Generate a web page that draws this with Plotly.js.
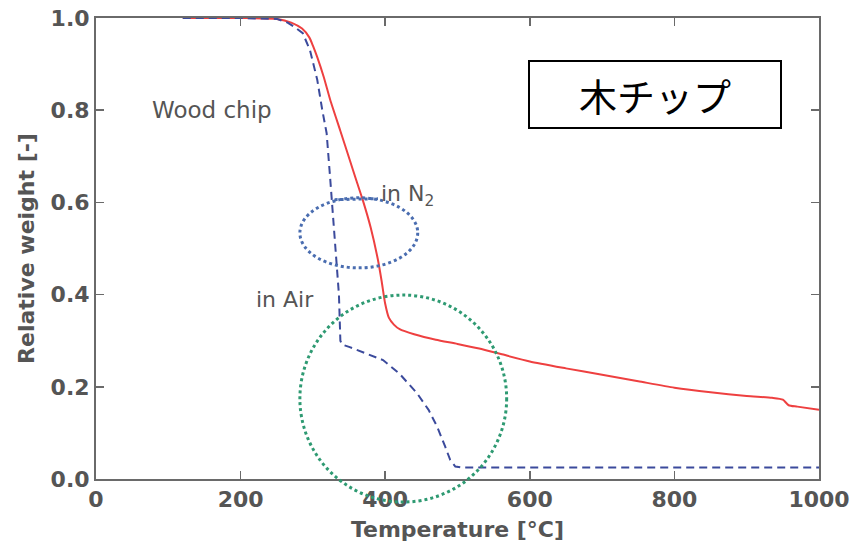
<!DOCTYPE html>
<html><head><meta charset="utf-8">
<script src="https://cdn.plot.ly/plotly-3.0.1.min.js"></script>
<style>html,body{margin:0;padding:0;background:#fff}#chart{width:851px;height:551px}</style>
</head><body><div id="chart"></div>
<script>
// Temperature [°C] and relative weight [-]
const n2Temp = [120,200,250,270,285,295,300,306,315,324,338,351,360,369,380,390,395,400,405,412,420,440,470,500,530,560,600,650,700,750,800,850,900,935,950,958,970,1000];
const n2Weight = [1,1,0.998,0.99,0.977,0.958,0.94,0.915,0.872,0.822,0.755,0.692,0.648,0.605,0.545,0.475,0.43,0.38,0.35,0.335,0.325,0.314,0.302,0.293,0.283,0.271,0.255,0.24,0.226,0.212,0.198,0.188,0.18,0.176,0.172,0.16,0.157,0.15];
const airTemp = [120,200,250,265,275,286,296,306,313,319,324,329,333,336,338,340,351,370,397,420,444,460,472,483,490,497,505,600,800,1000];
const airWeight = [1,1,0.998,0.99,0.98,0.967,0.93,0.866,0.80,0.75,0.65,0.55,0.475,0.40,0.30,0.292,0.286,0.275,0.258,0.228,0.186,0.15,0.113,0.07,0.041,0.027,0.025,0.025,0.025,0.025];
const xTicks = [0,200,400,600,800,1000];
const yTicks = [0,0.2,0.4,0.6,0.8,1.0];
const yTickText = ["0.0","0.2","0.4","0.6","0.8","1.0"];
// highlight ellipses (data units)
const n2Ellipse = {x0:282, x1:445, y0:0.458, y1:0.61};
const airCircle = {x0:282, x1:568, y0:-0.05, y1:0.399};

const xRange = [0,1000], yRange = [0,1];
const px = v => (v - xRange[0])/(xRange[1]-xRange[0]);
const py = v => (v - yRange[0])/(yRange[1]-yRange[0]);

const grey = '#555';
const tickFont = {family:'DejaVu Sans', size:22, color:grey, weight:'bold'};

const traces = [
  {x:n2Temp, y:n2Weight, mode:'lines', name:'in N2', line:{color:'#ee4040', width:2, shape:'spline', smoothing:0.6}},
  {x:airTemp, y:airWeight, mode:'lines', name:'in Air', line:{color:'#3b4a9c', width:2, dash:'8px,5px'}}
];

const axisCommon = {showgrid:false, zeroline:false, showline:true, linecolor:'#6a6a6a', linewidth:2,
  ticks:'inside', ticklen:8, tickwidth:1.5, tickcolor:'#6a6a6a', mirror:'ticks', tickfont:tickFont};

const layout = {
  width:851, height:551,
  margin:{l:96, r:32, t:18, b:72},
  paper_bgcolor:'#fff', plot_bgcolor:'#fff',
  showlegend:false,
  xaxis: Object.assign({}, axisCommon, {range:xRange, tickvals:xTicks, ticktext:xTicks.map(String),
    title:{text:'Temperature [°C]', font:tickFont, standoff:10}}),
  yaxis: Object.assign({}, axisCommon, {range:yRange, tickvals:yTicks, ticktext:yTickText,
    title:{text:'Relative weight [-]', font:tickFont, standoff:10}}),
  shapes:[
    {type:'circle', xref:'paper', yref:'paper', x0:px(n2Ellipse.x0), x1:px(n2Ellipse.x1), y0:py(n2Ellipse.y0), y1:py(n2Ellipse.y1),
      line:{color:'#4a6db0', width:3, dash:'dot'}},
    {type:'line', xref:'x', yref:'y', x0:330, x1:390, y0:0.606, y1:0.608, line:{color:'#4a6db0', width:3, dash:'dot'}},
    {type:'circle', xref:'paper', yref:'paper', x0:px(airCircle.x0), x1:px(airCircle.x1), y0:py(airCircle.y0), y1:py(airCircle.y1),
      line:{color:'#2e9a72', width:3, dash:'dot'}}
  ],
  annotations:[
    {x:160, y:0.8, xref:'x', yref:'y', text:'Wood chip', showarrow:false,
      font:{family:'DejaVu Sans', size:23, color:grey}},
    {x:392, y:0.614, xref:'x', yref:'y', text:'in N<sub>2</sub>', showarrow:false, xanchor:'left',
      font:{family:'DejaVu Sans', size:22, color:grey}},
    {x:262, y:0.39, xref:'x', yref:'y', text:'in Air', showarrow:false,
      font:{family:'DejaVu Sans', size:22, color:grey}},
    {x:773, y:0.834, xref:'x', yref:'y', text:'木チップ', showarrow:false,
      font:{family:'Noto Sans CJK JP', size:38, color:'#000'},
      bgcolor:'#fff', bordercolor:'#000', borderwidth:2, borderpad:0, width:250, height:65}
  ]
};

Plotly.newPlot('chart', traces, layout, {displayModeBar:false, staticPlot:true});
</script></body></html>
